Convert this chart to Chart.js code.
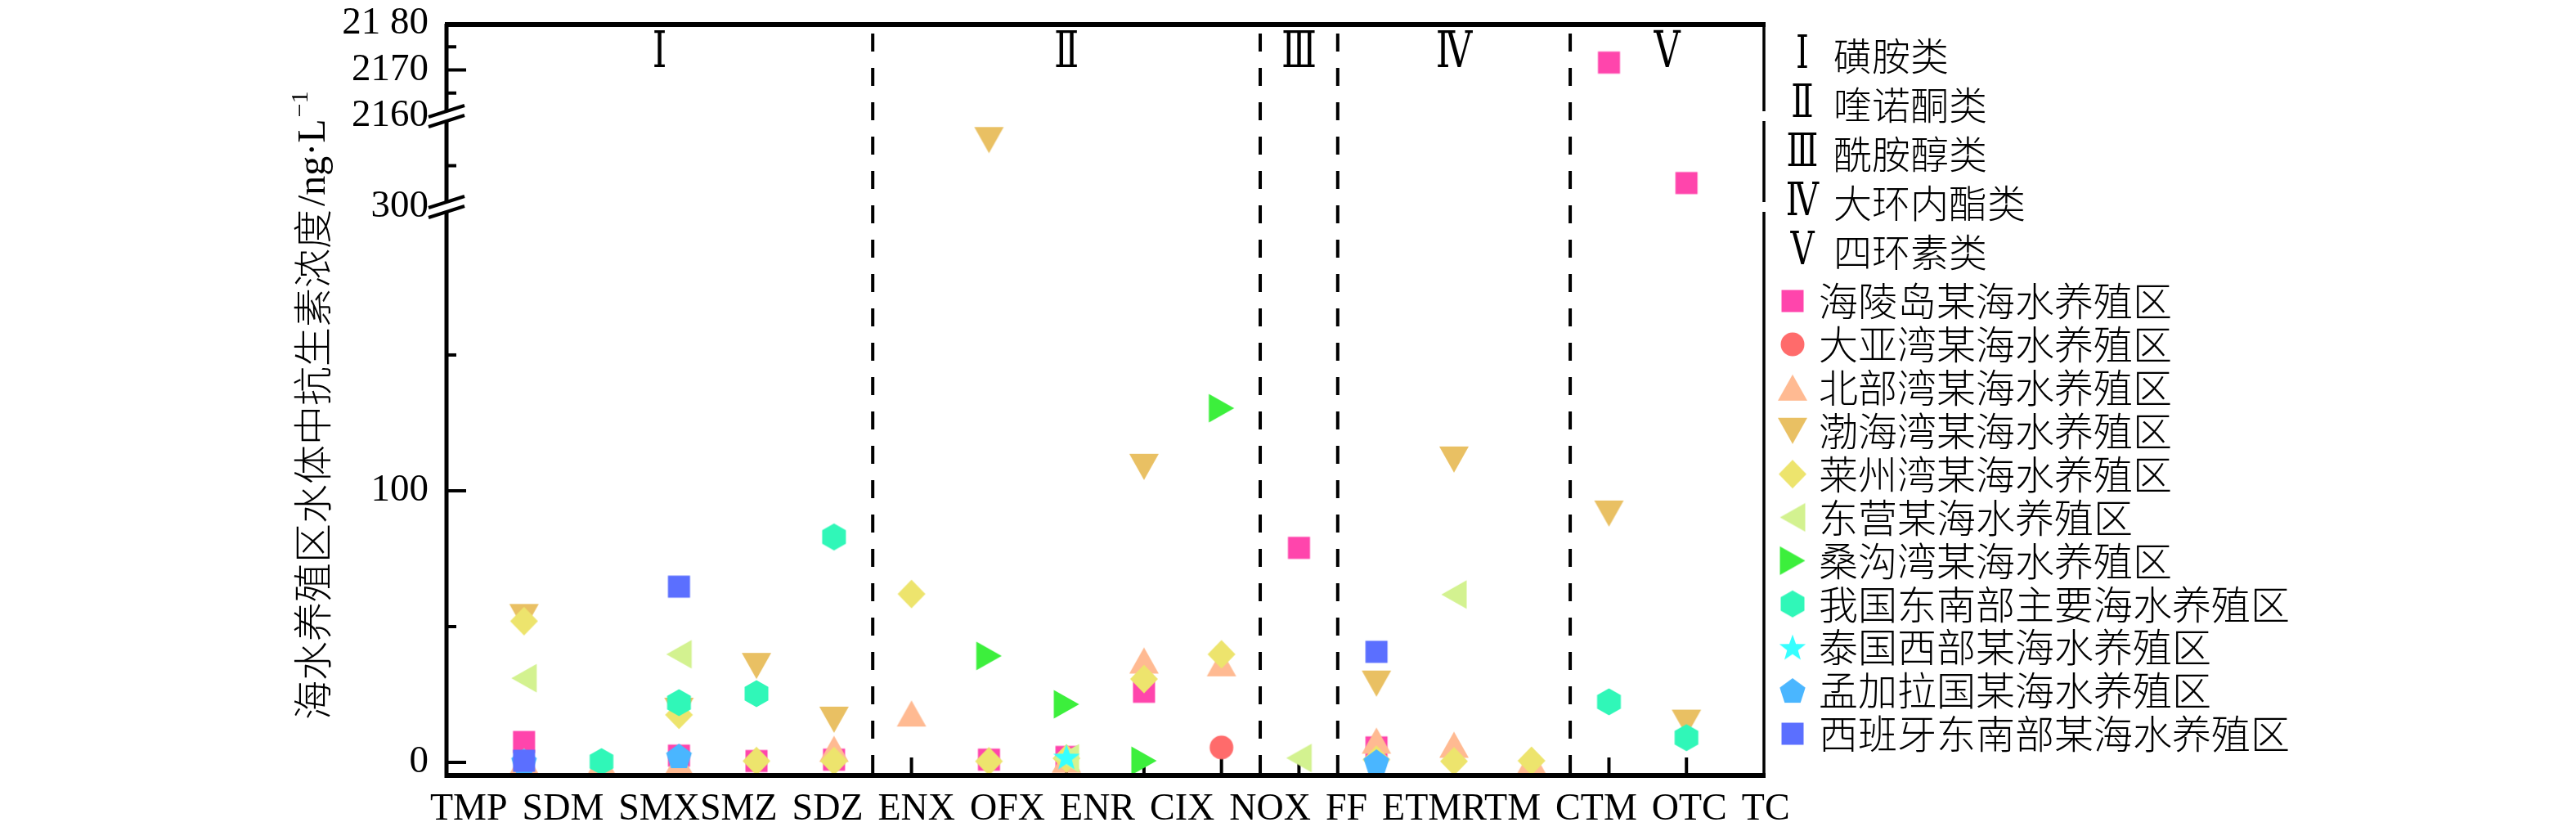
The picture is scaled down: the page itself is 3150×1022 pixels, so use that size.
<!DOCTYPE html>
<html>
<head>
<meta charset="utf-8">
<script src="https://cdn.jsdelivr.net/npm/chart.js@4.4.1/dist/chart.umd.min.js"></script>
<style>
    body { margin: 0; background: #fff; }
    canvas { display: block; }
</style>
</head>
<body>
<canvas id="chart" width="3150" height="1022"></canvas>
<script>
'use strict';

var categories = ['TMP', 'SDM', 'SMX', 'SMZ', 'SDZ', 'ENX', 'OFX', 'ENR', 'CIX', 'NOX', 'FF', 'ETM', 'RTM', 'CTM', 'OTC', 'TC'];

var classNumerals = ['Ⅰ', 'Ⅱ', 'Ⅲ', 'Ⅳ', 'Ⅴ'];
var classNames = ['磺胺类', '喹诺酮类', '酰胺醇类', '大环内酯类', '四环素类'];
var classSizes = [5, 5, 1, 3, 2];

// ng/L, one value per category, null = not reported
var hailingdao = [7.5, null, 2.5, 0.5, 1, null, 1, 2, 26, null, 79, 5.5, null, null, 2171.6, 329];
var dayawan = [null, null, null, null, null, null, null, null, null, 5.5, null, null, null, null, null, null];
var beibuwan = [0.5, 0, 0, null, 5, 18, null, 1, 37.5, 36.5, null, 8, 6.5, 0.5, null, null];
var bohaiwan = [53.5, null, 19, 35.5, 15.7, null, 381, null, 108.8, null, null, 29, 111.5, null, 91.6, 14.6];
var laizhouwan = [52, null, 17.5, 0.5, 0.5, 62, 0.4, 1.5, 30.7, 39.8, null, 1, 0.4, 0.6, null, null];
var dongying = [31, null, 39.8, null, null, null, null, 1.5, null, null, 1.6, null, 61.8, null, null, null];
var sanggouwan = [null, null, null, null, null, null, 39.2, 21.4, 0.6, 130.4, null, null, null, null, null, null];
var southeastChina = [null, 0.3, 22, 25.3, 83, null, null, null, null, null, null, null, null, null, 22.3, 9.1];
var thailand = [null, null, null, null, null, null, null, 2, null, null, null, null, null, null, null, null];
var bangladesh = [0.5, null, 2.4, null, null, null, null, null, null, null, null, 0.3, null, null, null, null];
var spain = [0.6, null, 64.7, null, null, null, null, null, null, null, null, 40.7, null, null, null, null];

var yTickValues = [0, 100, 300, 2160, 2170, 2180];
var yTickLabels = ['0', '100', '300', '2160', '2170', '21 80'];
var yMajorMarks = [0, 100, 2170];
var yMinorMarks = [50, 150, 350, 2165, 2175];

var series = [
    { label: '海陵岛某海水养殖区', values: hailingdao, shape: 'square', color: '#ff45ac' },
    { label: '大亚湾某海水养殖区', values: dayawan, shape: 'circle', color: '#ff6b6b' },
    { label: '北部湾某海水养殖区', values: beibuwan, shape: 'triUp', color: '#ffba92' },
    { label: '渤海湾某海水养殖区', values: bohaiwan, shape: 'triDown', color: '#e9c063' },
    { label: '莱州湾某海水养殖区', values: laizhouwan, shape: 'diamond', color: '#ede46d' },
    { label: '东营某海水养殖区', values: dongying, shape: 'triLeft', color: '#d3f290' },
    { label: '桑沟湾某海水养殖区', values: sanggouwan, shape: 'triRight', color: '#3cef3c' },
    { label: '我国东南部主要海水养殖区', values: southeastChina, shape: 'hexagon', color: '#30f7b8' },
    { label: '泰国西部某海水养殖区', values: thailand, shape: 'star', color: '#36ffff' },
    { label: '孟加拉国某海水养殖区', values: bangladesh, shape: 'pentagon', color: '#4ab6ff' },
    { label: '西班牙东南部某海水养殖区', values: spain, shape: 'square', color: '#5b6fff' }
];

// plot frame in page pixels
var plot = { left: 546, top: 29, right: 2157, bottom: 948 };

// broken y axis: three pieces of real value laid on one linear scale (0..919)
var segments = [
    { lo: -4.82, hi: 204.5, from: 0, to: 695 },
    { lo: 300, hi: 410, from: 695, to: 806 },
    { lo: 2160, hi: 2180, from: 806, to: 919 }
];

function toAxis(v) {
    var s = segments[0];
    segments.forEach(function (seg) { if (v >= seg.lo) s = seg; });
    return s.from + (v - s.lo) * (s.to - s.from) / (s.hi - s.lo);
}

var serif = '"Liberation Serif", "DejaVu Serif", serif';
var cjk = '"Noto Sans CJK SC", sans-serif';

// the figure sets the category names as one line of text, not under each tick
var tightAfter = ['SMX', 'ETM'];
function labelCenters() {
    var g = document.createElement('canvas').getContext('2d');
    g.font = '46px ' + serif;
    var pos = -20, out = [];
    categories.forEach(function (c) {
        var w = g.measureText(c).width;
        out.push(pos + w / 2);
        pos += w + (tightAfter.indexOf(c) >= 0 ? 0 : 18);
    });
    return out;
}

function polygon(g, pts) {
    g.moveTo(pts[0][0], pts[0][1]);
    pts.slice(1).forEach(function (p) { g.lineTo(p[0], p[1]); });
    g.closePath();
}

function starPoints(outer, inner, n, dy) {
    var pts = [];
    for (var i = 0; i < n * 2; i++) {
        var r = i % 2 ? inner : outer;
        var a = -Math.PI / 2 + i * Math.PI / n;
        pts.push([r * Math.cos(a), r * Math.sin(a) + dy]);
    }
    return pts;
}

function marker(shape, color) {
    var c = document.createElement('canvas');
    c.width = 40;
    c.height = 40;
    var g = c.getContext('2d');
    g.translate(20, 20);
    g.fillStyle = color;
    g.beginPath();
    if (shape === 'circle') g.arc(0, 0, 14.5, 0, Math.PI * 2);
    if (shape === 'square') g.rect(-13.5, -13.5, 27, 27);
    if (shape === 'triUp') polygon(g, [[0, -16], [18, 16], [-18, 16]]);
    if (shape === 'triDown') polygon(g, [[-18, -16], [18, -16], [0, 16]]);
    if (shape === 'triLeft') polygon(g, [[-15.5, 0], [15.5, -17.5], [15.5, 17.5]]);
    if (shape === 'triRight') polygon(g, [[15.5, 0], [-15.5, -17.5], [-15.5, 17.5]]);
    if (shape === 'diamond') polygon(g, [[0, -17.5], [17, 0], [0, 17.5], [-17, 0]]);
    if (shape === 'hexagon') polygon(g, [[0, -16.5], [14.5, -8.2], [14.5, 8.2], [0, 16.5], [-14.5, 8.2], [-14.5, -8.2]]);
    if (shape === 'star') polygon(g, starPoints(17, 7, 5, 1.6));
    if (shape === 'pentagon') polygon(g, starPoints(16.5, 16.5 * Math.cos(Math.PI / 5), 5, 1.6));
    g.fill();
    return c;
}

var datasets = series.map(function (s, k) {
    var pts = [];
    s.values.forEach(function (v, i) {
        if (v !== null) pts.push({ x: i + 1, y: toAxis(v) });
    });
    s.image = marker(s.shape, s.color);
    return {
        label: s.label,
        data: pts,
        pointStyle: s.image,
        pointRadius: 15,
        order: series.length - k,   // later sites sit on top
        xAxisID: 'x',
        yAxisID: 'y',
        clip: false
    };
});

function line(ctx, x1, y1, x2, y2) {
    ctx.beginPath();
    ctx.moveTo(x1, y1);
    ctx.lineTo(x2, y2);
    ctx.stroke();
}

function numeral(ctx, t, x, y, size) {
    ctx.save();
    ctx.translate(x, y);
    ctx.scale(0.72, 1);
    ctx.font = size + 'px ' + serif;
    ctx.textAlign = 'center';
    ctx.textBaseline = 'middle';
    ctx.fillText(t, 0, 0);
    ctx.restore();
}

var decor = {
    id: 'decor',
    beforeDatasetsDraw: function (chart) {
        var ctx = chart.ctx, a = chart.chartArea, x = chart.scales.x, y = chart.scales.y;
        ctx.save();
        ctx.strokeStyle = '#000';
        ctx.fillStyle = '#000';
        ctx.lineWidth = 4;
        categories.forEach(function (c, i) {
            var px = x.getPixelForValue(i + 1);
            line(ctx, px, a.bottom, px, a.bottom - 22);
        });
        yMajorMarks.forEach(function (v) {
            var py = y.getPixelForValue(toAxis(v));
            line(ctx, a.left, py, a.left + 24, py);
        });
        yMinorMarks.forEach(function (v) {
            var py = y.getPixelForValue(toAxis(v));
            line(ctx, a.left, py, a.left + 12, py);
        });

        // class separators and numerals
        var edges = [x.min], cum = 0;
        classSizes.forEach(function (n) { cum += n; edges.push(cum + 0.5); });
        edges[edges.length - 1] = x.max;
        ctx.setLineDash([22, 20]);
        edges.slice(1, -1).forEach(function (e) {
            var px = x.getPixelForValue(e);
            line(ctx, px, a.top + 12, px, a.bottom);
        });
        ctx.setLineDash([]);
        classNumerals.forEach(function (t, i) {
            numeral(ctx, t, x.getPixelForValue((edges[i] + edges[i + 1]) / 2), a.top + 37, 62);
        });
        ctx.restore();
    },
    afterDatasetsDraw: function (chart) {
        var ctx = chart.ctx, a = chart.chartArea, y = chart.scales.y;
        ctx.save();
        ctx.strokeStyle = '#000';
        ctx.lineWidth = 6;
        line(ctx, a.left - 2, a.bottom, a.right + 2, a.bottom);
        line(ctx, a.left - 2, a.top + 1, a.right + 2, a.top + 1);
        ctx.lineWidth = 5;
        line(ctx, a.left, a.top, a.left, a.bottom + 3);
        ctx.lineWidth = 3.5;
        line(ctx, a.right, a.top, a.right, a.bottom + 3);

        // axis breaks
        [toAxis(300), toAxis(2160)].forEach(function (d) {
            var py = y.getPixelForValue(d);
            ctx.fillStyle = '#fff';
            ctx.fillRect(a.left - 4, py - 6, 8, 12);
            ctx.fillRect(a.right - 4, py - 6, 8, 12);
            ctx.lineWidth = 4;
            line(ctx, a.left - 22, py + 1, a.left + 22, py - 13);
            line(ctx, a.left - 22, py + 13, a.left + 22, py - 1);
        });
        ctx.restore();
    },
    afterDraw: function (chart) {
        var ctx = chart.ctx;
        ctx.save();
        ctx.fillStyle = '#000';
        ctx.textBaseline = 'middle';

        // legend: classes then sampling sites
        classNumerals.forEach(function (t, i) {
            var py = 68 + i * 60;
            numeral(ctx, t, 2204, py, 56);
            ctx.textAlign = 'left';
            ctx.font = '300 47px ' + cjk;
            ctx.fillText(classNames[i], 2242, py);
        });
        series.forEach(function (s, i) {
            var py = 368 + i * 52.9;
            ctx.drawImage(s.image, 2192 - 20, py - 20);
            ctx.textAlign = 'left';
            ctx.font = '300 48px ' + cjk;
            ctx.fillText(s.label, 2224, py);
        });

        // y axis title, written bottom to top
        ctx.translate(382, 880);
        ctx.rotate(-Math.PI / 2);
        ctx.textAlign = 'left';
        var cx = 0;
        ctx.font = '300 48px ' + cjk;
        ctx.fillText('海水养殖区水体中抗生素浓度', cx, 0);
        cx += ctx.measureText('海水养殖区水体中抗生素浓度').width + 4;
        ctx.font = '48px ' + serif;
        ctx.fillText('/ng·L', cx, 2);
        cx += ctx.measureText('/ng·L').width + 2;
        ctx.font = '30px ' + serif;
        ctx.fillText('−1', cx, -14);
        ctx.restore();
    }
};

var labelPos = labelCenters();

new Chart(document.getElementById('chart'), {
    type: 'scatter',
    data: { datasets: datasets },
    options: {
        responsive: false,
        animation: false,
        devicePixelRatio: 1,
        layout: { padding: { left: plot.left - 140, top: plot.top, right: 3150 - plot.right, bottom: 0 } },
        plugins: { legend: { display: false }, tooltip: { enabled: false } },
        scales: {
            x: { type: 'linear', display: false, min: 0, max: categories.length + 1 },
            // label line, measured in pixels from the left edge of the plot
            xl: {
                type: 'linear',
                position: 'bottom',
                min: 0,
                max: plot.right - plot.left,
                grid: { display: false, drawTicks: false },
                border: { display: false },
                afterBuildTicks: function (s) {
                    s.ticks = labelPos.map(function (p) { return { value: p }; });
                },
                afterFit: function (s) {
                    s.height = 1022 - plot.bottom;
                    s.paddingLeft = 0;
                    s.paddingRight = 0;
                },
                ticks: {
                    autoSkip: false,
                    maxRotation: 0,
                    padding: 14,
                    color: '#000',
                    font: { family: serif, size: 46 },
                    callback: function (v, i) { return categories[i]; }
                }
            },
            y: {
                type: 'linear',
                position: 'left',
                min: 0,
                max: plot.bottom - plot.top,
                grid: { display: false, drawTicks: false },
                border: { display: false },
                afterBuildTicks: function (s) {
                    s.ticks = yTickValues.map(function (v) { return { value: toAxis(v) }; });
                },
                afterFit: function (s) {
                    s.width = 140;
                    s.paddingTop = 0;
                    s.paddingBottom = 0;
                },
                ticks: {
                    autoSkip: false,
                    padding: 22,
                    color: '#000',
                    font: { family: serif, size: 47 },
                    callback: function (v, i) { return yTickLabels[i]; }
                }
            }
        }
    },
    plugins: [decor]
});
</script>
</body>
</html>
